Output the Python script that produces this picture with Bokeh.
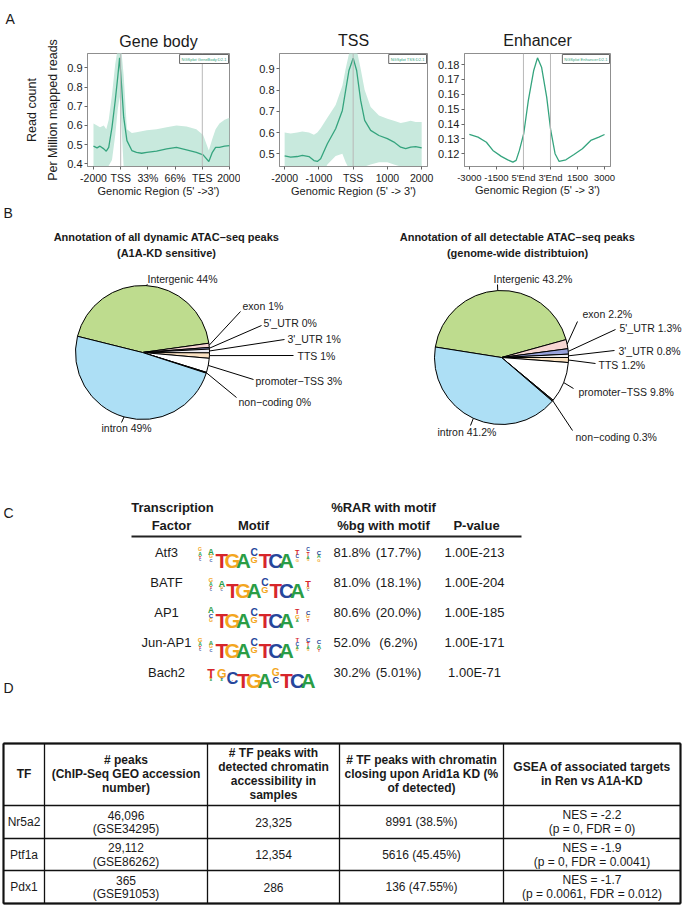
import numpy as np
from bokeh.plotting import figure
from bokeh.models import Range1d, FixedTicker, Span, Label, ColumnDataSource, Title
from bokeh.layouts import column, row
from bokeh.embed import file_html
from bokeh.resources import INLINE
from bokeh.core.properties import value, field

FONT = "Liberation Sans"
LINE_C = "#35a47e"
BAND_C = "#c8e9dd"
INK = "#1a1a1a"

# ---------------- DATA: panel A ----------------
gb_tick_pos = [0, 1, 2, 3, 4, 5]
gb_tick_labels = ["-2000", "TSS", "33%", "66%", "TES", "2000"]
gb_x = [0.00, 0.13, 0.24, 0.38, 0.47, 0.56, 0.68, 0.80, 0.89, 0.96, 1.02, 1.11, 1.23, 1.41, 1.58,
        1.77, 1.96, 2.32, 2.69, 3.05, 3.42, 3.78, 4.03, 4.24, 4.37, 4.49, 4.63, 4.82, 5.00]
gb_mean = [0.492, 0.483, 0.492, 0.478, 0.466, 0.486, 0.590, 0.730, 0.850, 0.952, 0.834, 0.643, 0.521, 0.469, 0.460,
           0.455, 0.460, 0.466, 0.478, 0.486, 0.473, 0.460, 0.447, 0.412, 0.460, 0.486, 0.486, 0.492, 0.495]
gb_upper = [0.610, 0.600, 0.590, 0.600, 0.580, 0.630, 0.760, 0.920, 1.000, 1.000, 1.000, 0.860, 0.580, 0.560, 0.565,
            0.570, 0.575, 0.580, 0.590, 0.600, 0.595, 0.580, 0.550, 0.470, 0.530, 0.580, 0.610, 0.630, 0.640]
gb_lower = [0.380, 0.380, 0.380, 0.380, 0.380, 0.390, 0.420, 0.550, 0.680, 0.750, 0.620, 0.380, 0.380, 0.380, 0.380,
            0.380, 0.380, 0.380, 0.380, 0.380, 0.380, 0.380, 0.380, 0.370, 0.370, 0.380, 0.380, 0.380, 0.380]
gb_yticks = [0.4, 0.5, 0.6, 0.7, 0.8, 0.9]

tss_tick_pos = [-2000, -1000, 0, 1000, 2000]
tss_tick_labels = ["-2000", "-1000", "TSS", "1000", "2000"]
tss_x = [-2000, -1825, -1630, -1483, -1290, -1145, -1046, -949, -753, -511, -315, -219, -123, 0, 102, 219, 336,
         511, 753, 998, 1191, 1387, 1533, 1679, 1825, 2000]
tss_mean = [0.490, 0.484, 0.487, 0.492, 0.487, 0.468, 0.464, 0.476, 0.547, 0.618, 0.704, 0.798, 0.892, 0.950,
            0.892, 0.751, 0.657, 0.610, 0.586, 0.571, 0.555, 0.531, 0.524, 0.531, 0.534, 0.528]
tss_upper = [0.600, 0.595, 0.600, 0.605, 0.600, 0.590, 0.600, 0.620, 0.670, 0.730, 0.820, 0.900, 0.970, 1.000,
             0.990, 0.900, 0.800, 0.720, 0.680, 0.665, 0.655, 0.645, 0.650, 0.655, 0.650, 0.650]
tss_lower = [0.440, 0.440, 0.440, 0.440, 0.430, 0.410, 0.390, 0.390, 0.450, 0.490, 0.500, 0.460, 0.430, 0.430,
             0.430, 0.430, 0.440, 0.450, 0.460, 0.460, 0.450, 0.440, 0.430, 0.430, 0.440, 0.440]
tss_yticks = [0.5, 0.6, 0.7, 0.8, 0.9]

enh_tick_pos = [0, 1, 2, 3, 4, 5]
enh_tick_labels = ["-3000", "-1500", "5'End", "3'End", "1500", "3000"]
enh_x = [0.00, 0.32, 0.63, 0.87, 1.18, 1.42, 1.61, 1.73, 1.85, 2.01, 2.18, 2.38, 2.52, 2.67, 2.86, 3.01,
         3.17, 3.32, 3.57, 3.87, 4.18, 4.49, 4.79, 5.00]
enh_mean = [0.1330, 0.1312, 0.1278, 0.1223, 0.1183, 0.1160, 0.1144, 0.1156, 0.1223, 0.1335, 0.1558, 0.1760,
            0.1845, 0.1782, 0.1581, 0.1357, 0.1201, 0.1149, 0.1160, 0.1196, 0.1234, 0.1290, 0.1312, 0.1330]
enh_yticks = [0.12, 0.13, 0.14, 0.15, 0.16, 0.17, 0.18]

# ---------------- DATA: panel B ----------------
pie_cats = ["Intergenic", "exon", "5'_UTR", "3'_UTR", "TTS", "promoter\u2212TSS", "non\u2212coding", "intron"]
pie_colors = ["#bedc8e", "#f7d6d3", "#98a2dc", "#eeeef4", "#fbe2c2", "#ffffff", "#444444", "#addff5"]
dyn_share = [43.9, 1.0, 0.4, 0.9, 1.3, 3.4, 0.2, 48.9]
dyn_labels = ["44%", "1%", "0%", "1%", "1%", "3%", "0%", "49%"]
gw_share = [43.2, 2.2, 1.3, 0.8, 1.2, 9.8, 0.3, 41.2]
gw_labels = ["43.2%", "2.2%", "1.3%", "0.8%", "1.2%", "9.8%", "0.3%", "41.2%"]

# ---------------- DATA: panel C ----------------
c_tf = ["Atf3", "BATF", "AP1", "Jun-AP1", "Bach2"]
c_rar = ["81.8%", "81.0%", "80.6%", "52.0%", "30.2%"]
c_bg = ["(17.7%)", "(18.1%)", "(20.0%)", "(6.2%)", "(5.01%)"]
c_pval = ["1.00E-213", "1.00E-204", "1.00E-185", "1.00E-171", "1.00E-71"]
logo_atf3 = [[("G", .25), ("A", .25), ("T", .2), ("C", .15)], [("A", .4), ("G", .25), ("C", .2)],
             [("T", 1.0)], [("G", 1.0)], [("A", 1.0)], [("C", .5), ("G", .45)],
             [("T", 1.0)], [("C", 1.0)], [("A", 1.0)],
             [("T", .35), ("C", .25), ("G", .2)], [("C", .25), ("T", .25), ("A", .2), ("G", .15)],
             [("C", .3), ("A", .25), ("G", .2)]]
logo_batf = [[("G", .3), ("A", .25), ("T", .2), ("C", .15)], [("A", .45), ("G", .2), ("C", .15)],
             [("T", 1.0)], [("G", 1.0)], [("A", 1.0)], [("C", .5), ("G", .45)],
             [("T", 1.0)], [("C", 1.0)], [("A", 1.0)], [("T", .45), ("G", .2), ("C", .15)]]
logo_ap1 = [[("A", .4), ("C", .3), ("G", .25)],
            [("T", 1.0)], [("G", 1.0)], [("A", 1.0)], [("C", .5), ("G", .45)],
            [("T", 1.0)], [("C", 1.0)], [("A", 1.0)],
            [("T", .35), ("G", .3), ("A", .2)], [("C", .3), ("G", .25), ("T", .2)]]
logo_jun = [[("G", .3), ("A", .25), ("T", .2), ("C", .15)], [("A", .3), ("G", .25), ("C", .2)],
            [("T", 1.0)], [("G", 1.0)], [("A", 1.0)], [("C", .5), ("G", .45)],
            [("T", 1.0)], [("C", 1.0)], [("A", 1.0)],
            [("T", .3), ("C", .25), ("A", .2), ("G", .15)], [("C", .3), ("T", .25), ("A", .2), ("G", .15)],
            [("C", .3), ("A", .3), ("T", .2)]]
logo_bach2 = [[("T", .6), ("G", .2), ("A", .15)], [("G", .6), ("C", .2), ("A", .15)], [("C", .8), ("T", .1)],
              [("T", 1.0)], [("G", 1.0)], [("A", 1.0)], [("G", .5), ("C", .45)],
              [("T", 1.0)], [("C", 1.0)], [("A", 1.0)]]
c_logos = [logo_atf3, logo_batf, logo_ap1, logo_jun, logo_bach2]
LOGO_COLORS = {"A": "#2a9d46", "C": "#26469c", "G": "#f3a61e", "T": "#d7262b"}

# ---------------- DATA: panel D ----------------
d_headers = [["TF"], ["# peaks", "(ChIP-Seq GEO accession", "number)"],
             ["# TF peaks with", "detected chromatin", "accessibility in", "samples"],
             ["# TF peaks with chromatin", "closing upon Arid1a KD (%", "of detected)"],
             ["GSEA of associated targets", "in Ren vs A1A-KD"]]
d_tf = ["Nr5a2", "Ptf1a", "Pdx1"]
d_peaks = ["46,096", "29,112", "365"]
d_geo = ["(GSE34295)", "(GSE86262)", "(GSE91053)"]
d_detected = ["23,325", "12,354", "286"]
d_closing = ["8991 (38.5%)", "5616 (45.45%)", "136 (47.55%)"]
d_nes = ["NES = -2.2", "NES = -1.9", "NES = -1.7"]
d_stats = ["(p = 0, FDR = 0)", "(p = 0, FDR = 0.0041)", "(p = 0.0061, FDR = 0.012)"]

TOP_H = 200


def blank_canvas(width, height, x0, y0):
    c = figure(width=width, height=height, x_range=Range1d(x0, x0 + width), y_range=Range1d(y0 + height, y0),
               output_backend="svg", toolbar_location=None, x_axis_type=None, y_axis_type=None, min_border=0)
    c.grid.visible = False
    c.outline_line_color = None
    c.background_fill_color = "white"
    c.border_fill_color = "white"
    return c


def add_text(c, xs, ys, texts, size, style="normal", align="center", baseline="middle", color=INK, font=FONT,
             angle=0.0):
    src = ColumnDataSource(dict(x=list(xs), y=list(ys), t=list(texts)))
    c.text(x="x", y="y", text="t", source=src, text_font=value(font), text_font_size=f"{size}px",
           text_font_style=style, text_align=align, text_baseline=baseline, text_color=color, angle=angle)


# ================= Panel A figures =================
def make_profile(width, mbl, mbr, xr, yr, title, xlabel, xticks, xlabels, yticks, vlines, legend_text,
                 ystand=2, xtick_size="10.5px"):
    p = figure(width=width, height=TOP_H, x_range=Range1d(*xr), y_range=Range1d(*yr),
               output_backend="svg", toolbar_location=None, title=title,
               min_border_left=mbl, min_border_right=mbr, min_border_top=53, min_border_bottom=34)
    p.background_fill_color = "white"
    p.border_fill_color = "white"
    p.title.align = "center"
    p.title.text_font = FONT
    p.title.text_font_size = "16px"
    p.title.text_font_style = "normal"
    p.title.text_color = INK
    p.title.standoff = 9
    p.grid.visible = False
    p.outline_line_color = "#8f8f8f"
    p.xaxis.ticker = FixedTicker(ticks=xticks)
    p.xaxis.major_label_overrides = dict(zip(xticks, xlabels))
    p.yaxis.ticker = FixedTicker(ticks=yticks)
    for ax in [p.xaxis[0], p.yaxis[0]]:
        ax.axis_line_color = "#8f8f8f"
        ax.major_tick_line_color = "#666666"
        ax.minor_tick_line_color = None
        ax.major_tick_out = 3
        ax.major_tick_in = 0
        ax.major_label_standoff = 2
        ax.major_label_text_font = FONT
        ax.major_label_text_color = INK
    p.xaxis[0].major_label_text_font_size = xtick_size
    p.yaxis[0].major_label_text_font_size = "11px"
    p.yaxis[0].major_label_standoff = ystand
    p.xaxis.axis_label = xlabel
    p.xaxis.axis_label_text_font = FONT
    p.xaxis.axis_label_text_font_size = "11px"
    p.xaxis.axis_label_text_font_style = "normal"
    p.xaxis.axis_label_text_color = INK
    p.xaxis.axis_label_standoff = -2
    for v in vlines:
        p.add_layout(Span(location=v, dimension="height", line_color="#b8b8b8", line_width=1))
    p.add_layout(Label(x=xr[1], y=yr[1], x_offset=-1, y_offset=-1, text=legend_text,
                       text_align="right", text_baseline="top", text_font=FONT, text_font_size="4px",
                       text_color=LINE_C, border_line_color="#666666", background_fill_color="white",
                       padding=2))
    return p


gb_xr = (-0.22, 5.0)
gb_yr = (0.386, 0.975)
pA1 = make_profile(240, 87, 11, gb_xr, gb_yr, "A", "Genomic Region (5' ->3')",
                   gb_tick_pos, gb_tick_labels, gb_yticks, [1, 4], "NGSplot GeneBody:D2-1")
# the figure's own title is the outer one: use it for the panel letter
pA1.title.align = "left"
pA1.title.offset = -82
pA1.title.standoff = 0
pA1.title.text_font_size = "14px"
pA1.add_layout(Title(text="Gene body", align="center", standoff=8,
                     text_font=FONT, text_font_size="16px", text_font_style="normal", text_color=INK), "above")
pA1.varea(x=gb_x, y1=gb_lower, y2=gb_upper, fill_color=BAND_C)
pA1.line(gb_x, gb_mean, line_color=LINE_C, line_width=1.3)
pA1.add_layout(Title(text="Per Million mapped reads", align="center", offset=-8, standoff=10,
                     text_font=FONT, text_font_size="12.5px", text_font_style="normal", text_color=INK), "left")
pA1.add_layout(Title(text="Read count", align="center", offset=5, standoff=0,
                     text_font=FONT, text_font_size="12.5px", text_font_style="normal", text_color=INK), "left")

tss_xr = (-2150, 2170)
tss_yr = (0.44, 0.972)
pA2 = make_profile(195, 39, 8, tss_xr, tss_yr, "TSS", "Genomic Region (5' -> 3')",
                   tss_tick_pos, tss_tick_labels, tss_yticks, [0], "NGSplot TSS:D2-1")
pA2.varea(x=tss_x, y1=tss_lower, y2=tss_upper, fill_color=BAND_C)
pA2.line(tss_x, tss_mean, line_color=LINE_C, line_width=1.3)

enh_xr = (-0.18, 5.22)
enh_yr = (0.1115, 0.1874)
pA3 = make_profile(250, 28, 75, enh_xr, enh_yr, "Enhancer", "Genomic Region (5' -> 3')",
                   enh_tick_pos, enh_tick_labels, enh_yticks, [2, 3], "NGSplot Enhancer:D2-1",
                   xtick_size="9.5px")
pA3.line(enh_x, enh_mean, line_color=LINE_C, line_width=1.3)

# ================= Bottom canvas (panels B, C, D) =================
q = blank_canvas(685, 909 - TOP_H, 0, TOP_H)

# panel letters
add_text(q, [3, 3, 3], [212, 512, 687], ["B", "C", "D"], 14, align="left")


# ---- panel B: pies ----
def draw_pie(cx, cy, r, shares, labels, start_deg, label_pos):
    shares = np.array(shares, dtype=float)
    cum = np.concatenate([[0.0], np.cumsum(shares)[:-1]])
    a0 = start_deg - cum * 3.6
    a1 = start_deg - (cum + shares) * 3.6
    src = ColumnDataSource(dict(a0=np.deg2rad(a0), a1=np.deg2rad(a1), c=pie_colors))
    q.wedge(x=cx, y=cy, radius=r, start_angle="a0", end_angle="a1", direction="clock",
            fill_color="c", line_color="black", line_width=1, source=src)
    mid = np.deg2rad((a0 + a1) / 2)
    sx = cx + r * np.cos(mid)
    sy = cy - r * np.sin(mid)
    tx = [lp[0] for lp in label_pos]
    ty = [lp[1] for lp in label_pos]
    ex = [lp[2] for lp in label_pos]
    ey = [lp[3] for lp in label_pos]
    q.segment(x0=sx, y0=sy, x1=ex, y1=ey, line_color="black", line_width=1)
    add_text(q, tx, ty, [f"{c} {l}" for c, l in zip(pie_cats, labels)], 10.5, align="left")


dyn_pos = [(147, 278, 147, 284), (242, 305, 240, 311), (263, 322, 261, 325), (287, 338, 284, 339),
           (297, 355, 293, 355), (255, 380, 253, 379), (238, 401, 236, 397), (101, 427, 121, 422)]
gw_pos = [(493, 278, 497, 284), (582, 313, 577, 321), (619, 327, 615, 329), (618, 350, 614, 350),
          (598, 364, 595, 363), (578, 391, 573, 388), (575, 436, 572, 430), (437, 431, 470, 425)]
draw_pie(142, 352, 67, dyn_share, dyn_labels, 166, dyn_pos)
draw_pie(501, 357, 67, gw_share, gw_labels, 171, gw_pos)
add_text(q, [166, 166], [236, 252], ["Annotation of all dynamic ATAC\u2013seq peaks", "(A1A-KD sensitive)"],
         11, style="bold")
add_text(q, [517, 517], [236, 252],
         ["Annotation of all detectable ATAC\u2013seq peaks", "(genome-wide distribtuion)"], 11, style="bold")

# ---- panel C: motif table ----
add_text(q, [172, 171, 253, 383, 383, 476], [507, 525, 525, 507, 525, 525],
         ["Transcription", "Factor", "Motif", "%RAR with motif", "%bg with motif", "P-value"], 13, style="bold")
q.segment(x0=[131], y0=[536], x1=[521], y1=[536], line_color="#222222", line_width=2)
row_y = [552, 582, 612, 642, 672]
add_text(q, [166] * 5, row_y, c_tf, 13)
add_text(q, [333] * 5, row_y, c_rar, 13, align="left")
add_text(q, [398] * 5, row_y, c_bg, 13)
add_text(q, [474] * 5, row_y, c_pval, 13)

lx, ly, lt, lf, lc = [], [], [], [], []
for cy, cols in zip(row_y, c_logos):
    colw = 10.8
    FS = 20.5
    H = FS * 0.72
    base = cy + 7.5
    n = len(cols)
    for i, col in enumerate(cols):
        x = 259 + (i - (n - 1) / 2) * colw
        y = base
        for letter, h in reversed(col):
            lx.append(x)
            ly.append(y)
            lt.append(letter)
            lf.append(f"{h * FS:.1f}px")
            lc.append(LOGO_COLORS[letter])
            y -= h * H + 0.6
lsrc = ColumnDataSource(dict(x=lx, y=ly, t=lt, fs=lf, c=lc))
q.text(x="x", y="y", text="t", source=lsrc, text_font=value(FONT),
       text_font_style="bold", text_font_size=field("fs"), text_color="c",
       text_align="center", text_baseline="alphabetic")

# ---- panel D: table ----
col_edges = [3, 44, 207, 339, 503, 680]
row_edges = [743, 805, 838, 870, 903]
q.segment(x0=[col_edges[0]] * len(row_edges), y0=row_edges, x1=[col_edges[-1]] * len(row_edges), y1=row_edges,
          line_color="#111111", line_width=1.3)
q.segment(x0=col_edges, y0=[row_edges[0]] * len(col_edges), x1=col_edges, y1=[row_edges[-1]] * len(col_edges),
          line_color="#111111", line_width=1.3)
q.segment(x0=[col_edges[0], col_edges[0], col_edges[0], col_edges[-1]],
          y0=[row_edges[0], row_edges[-1], row_edges[0], row_edges[0]],
          x1=[col_edges[-1], col_edges[-1], col_edges[0], col_edges[-1]],
          y1=[row_edges[0], row_edges[-1], row_edges[-1], row_edges[-1]],
          line_color="#111111", line_width=2)
ccx = [(a + b) / 2 for a, b in zip(col_edges[:-1], col_edges[1:])]
hcy = (row_edges[0] + row_edges[1]) / 2 - 1
hx, hy, ht = [], [], []
for cx, lines in zip(ccx, d_headers):
    n = len(lines)
    for k, s in enumerate(lines):
        hx.append(cx)
        hy.append(hcy + (k - (n - 1) / 2) * 14)
        ht.append(s)
add_text(q, hx, hy, ht, 12, style="bold")
rcy = [(a + b) / 2 for a, b in zip(row_edges[1:-1], row_edges[2:])]
add_text(q, [ccx[0]] * 3, rcy, d_tf, 12)
add_text(q, [ccx[1]] * 3, [y - 7 for y in rcy], d_peaks, 12)
add_text(q, [ccx[1]] * 3, [y + 7 for y in rcy], d_geo, 12)
add_text(q, [ccx[2]] * 3, rcy, d_detected, 12)
add_text(q, [ccx[3]] * 3, rcy, d_closing, 12)
add_text(q, [ccx[4]] * 3, [y - 7 for y in rcy], d_nes, 12)
add_text(q, [ccx[4]] * 3, [y + 7 for y in rcy], d_stats, 12)

layout = column(row(pA1, pA2, pA3, spacing=0), q, spacing=0)
open("out.html", "w").write(file_html(layout, INLINE))
